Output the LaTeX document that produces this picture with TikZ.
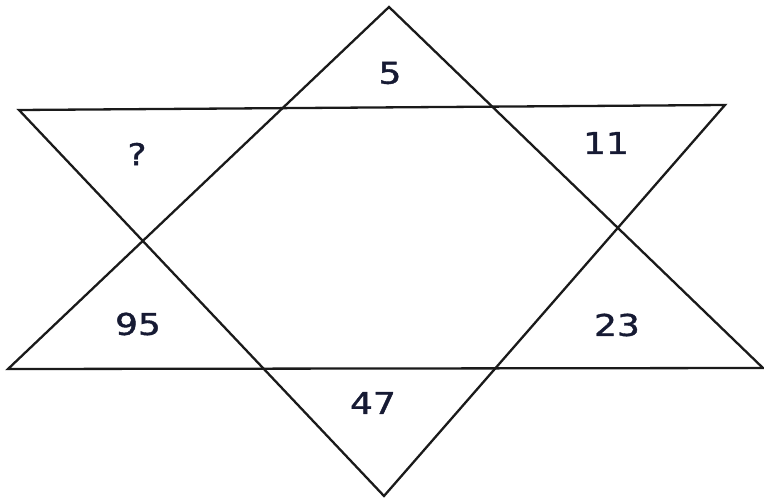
\documentclass[tikz,border=0pt]{standalone}
\usepackage{fontspec}
\setmainfont{DejaVu Sans}
\newfontfamily\lblfont[FakeBold=1.2]{DejaVu Sans}
\definecolor{txt}{HTML}{161A33}
\definecolor{ln}{HTML}{1A1A1A}
\begin{document}
\begin{tikzpicture}[x=1pt,y=-1pt,
  edge/.style={draw=ln,line width=2.3pt,line join=miter},
  lbl/.style={text=txt,font=\lblfont\fontsize{30}{33}\selectfont,inner sep=0pt}]
\useasboundingbox (0,0) rectangle (764,500);
\coordinate (ua) at (389,7);
\coordinate (ul) at (8,369);
\coordinate (ur) at (763,368);
\coordinate (dl) at (19,110);
\coordinate (dr) at (725,105);
\coordinate (db) at (384,496);
\draw[edge] (ua) -- (ur) -- (ul) -- cycle;
\draw[edge] (dl) -- (dr) -- (db) -- cycle;
\node[lbl] (n5) at (390,73) {\scalebox{1.2}[1]{5}};
\node[lbl] (nq) at (137,154) {\scalebox{1.2}[1]{?}};
\node[lbl] (n11) at (606,143) {\scalebox{1.2}[1]{11}};
\node[lbl] (n95) at (138,324) {\scalebox{1.2}[1]{95}};
\node[lbl] (n23) at (617,325) {\scalebox{1.2}[1]{23}};
\node[lbl] (n47) at (373,403) {\scalebox{1.2}[1]{47}};
\end{tikzpicture}
\end{document}
